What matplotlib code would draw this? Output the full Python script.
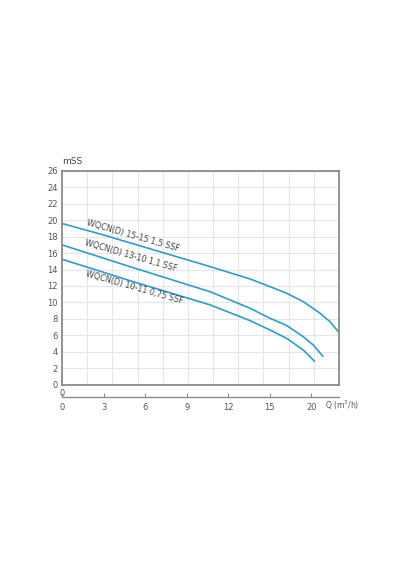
import numpy as np
import matplotlib.pyplot as plt

# curves (x in bottom-scale positions, H in mSS)
q_1515 = [0, 3, 6, 9, 10.7, 13.57, 15.02, 16.22, 17.42, 18.63, 19.35, 19.95]
h_1515 = [19.6, 18.2, 16.7, 15.2, 14.35, 12.86, 11.92, 11.12, 10.1, 8.69, 7.66, 6.45]
q_1310 = [0, 5, 10.7, 13.57, 15.02, 16.22, 17.42, 18.14, 18.87]
h_1310 = [17.0, 14.3, 11.3, 9.3, 8.08, 7.2, 5.84, 4.83, 3.4]
q_1011 = [0, 5, 10.7, 13.57, 15.02, 16.22, 17.42, 18.27]
h_1011 = [15.25, 12.6, 9.7, 7.8, 6.65, 5.64, 4.22, 2.8]

labels = ['WQCN(D) 15-15 1,5 SSF', 'WQCN(D) 13-10 1,1 SSF', 'WQCN(D) 10-11 0,75 SSF']
label_pos = [(5.1, 18.15), (5.0, 15.65), (5.2, 11.8)]

y_ticks = list(range(0, 27, 2))
q_ticks = [0, 3, 6, 9, 12, 15, 18]
q_labels = ['0', '3', '6', '9', '12', '15', '20']

line_col = '#2b9dcf'
frame_col = '#8a8a8a'
text_col = '#555555'

fig = plt.figure(figsize=(4, 5.7), dpi=100)
ax = fig.add_axes([0.155, 0.325, 0.6925, 0.3754])

for q, h in [(q_1515, h_1515), (q_1310, h_1310), (q_1011, h_1011)]:
    ax.plot(q, h, color=line_col, lw=1.2, solid_capstyle='butt',
            solid_joinstyle='round')

for txt, (x, y) in zip(labels, label_pos):
    ax.text(x, y, txt, rotation=-16, ha='center', va='center',
            fontsize=5.8, color='#444444', rotation_mode='anchor')

ax.set_xlim(0, 20)
ax.set_ylim(0, 26)
ax.set_yticks(y_ticks)
ax.set_xticks([0])
ax.set_xticklabels(['0'])
ax.tick_params(length=0, labelsize=6, labelcolor=text_col, pad=3)
ax.set_xticks(np.linspace(0, 20, 12), minor=True)
ax.tick_params(which='minor', length=0)
ax.grid(axis='x', which='minor', color='#e6e6e6', lw=0.8)
ax.grid(axis='y', which='major', color='#e6e6e6', lw=0.8)
for s in ax.spines.values():
    s.set_color(frame_col)
    s.set_linewidth(1.3)
ax.text(0.02, 26.6, 'mSS', fontsize=6.5, color='#444444', va='bottom')

# separate Q scale under the frame
ax2 = fig.add_axes([0.155, 0.3035, 0.6925, 0.001])
ax2.set_xlim(0, 20)
ax2.set_yticks([])
for side in ['top', 'left', 'right']:
    ax2.spines[side].set_visible(False)
ax2.spines['bottom'].set_color(frame_col)
ax2.spines['bottom'].set_linewidth(1.0)
ax2.set_xticks(q_ticks)
ax2.set_xticklabels(q_labels)
ax2.tick_params(axis='x', direction='in', length=3, color=frame_col,
                labelsize=6, labelcolor=text_col, pad=4)
ax2.text(19.0, -2.5, 'Q (m$^3$/h)', fontsize=5.5, color=text_col,
         transform=ax2.transData, va='top')

fig.savefig('out.png', dpi=100, facecolor='white')
